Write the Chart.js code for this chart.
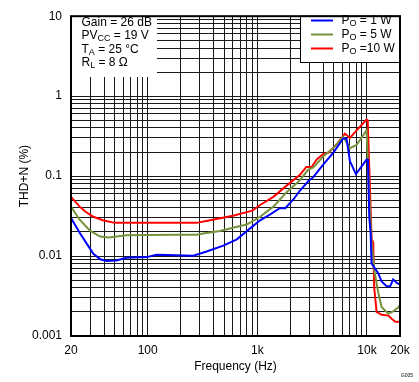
<!DOCTYPE html>
<html><head><meta charset="utf-8">
<script src="https://cdn.jsdelivr.net/npm/chart.js@4"></script>
<style>html,body{margin:0;padding:0;background:#fff}canvas{display:block}</style>
</head><body>
<canvas id="c" width="419" height="382"></canvas>
<script>
// ---- data ----
const freq1W = [20,24,28,32,37,42,52,64,98,121,180,261,345,490,650,860,1060,1300,1600,1800,2130,2450,2910,3240,4000,4920,6070,6510,6990,7930,9910,10200,10500,10790,11010,11800,12670,13590,15100,16280,17340,18710,20000];
const thd1W  = [0.03,0.0196,0.0141,0.0107,0.0091,0.0087,0.0088,0.0095,0.0097,0.0104,0.0102,0.0101,0.0114,0.0135,0.0162,0.0222,0.028,0.033,0.0396,0.0396,0.051,0.066,0.086,0.097,0.14,0.195,0.296,0.296,0.154,0.106,0.161,0.16,0.03,0.0196,0.0081,0.007,0.0061,0.0048,0.0042,0.0042,0.0051,0.0046,0.0044];

const freq5W = [20,24,30,37,44,64,100,200,280,320,456,600,800,1060,1400,1850,2450,2900,3240,4000,4920,6070,6990,8030,9910,10300,11000,11800,12670,13590,15630,17000,19500,20000];
const thd5W  = [0.0415,0.0285,0.0206,0.0175,0.0171,0.0182,0.0183,0.0185,0.0185,0.0192,0.0206,0.0226,0.0248,0.031,0.0415,0.063,0.089,0.12,0.128,0.177,0.224,0.31,0.224,0.245,0.374,0.1,0.015,0.006,0.0035,0.0023,0.0019,0.002,0.0023,0.0025];

const freq10W = [20,24,27,32,39,50,70,100,150,200,280,370,600,900,1060,1400,1850,2450,2800,3130,3470,4000,4440,5290,6290,6990,8000,9910,10150,10480,11020,11400,11640,12240,13590,15630,16790,18000,20000];
const thd10W  = [0.055,0.0415,0.036,0.031,0.028,0.026,0.026,0.026,0.026,0.026,0.026,0.028,0.032,0.037,0.0435,0.055,0.076,0.104,0.13,0.13,0.161,0.189,0.195,0.25,0.34,0.30,0.37,0.51,0.5,0.134,0.0163,0.0148,0.004,0.002,0.00184,0.0018,0.00164,0.00152,0.0015];

const legendTails = [' = 1 W',' = 5 W',' =10 W'];
const seriesColors = ['#0000FF','#76923C','#FF0000'];

const xTickValues = [20,30,40,50,60,70,80,90,100,200,300,400,500,600,700,800,900,1000,2000,3000,4000,5000,6000,7000,8000,9000,10000,20000];
const xLabelValues = [20,100,1000,10000,20000];
const xLabelTexts  = ['20','100','1k','10k','20k'];

const yTickValues = [0.001,0.002,0.003,0.004,0.005,0.006,0.007,0.008,0.009,0.01,0.02,0.03,0.04,0.05,0.06,0.07,0.08,0.09,0.1,0.2,0.3,0.4,0.5,0.6,0.7,0.8,0.9,1,2,3,4,5,6,7,8,9,10];
const yLabelValues = [0.001,0.01,0.1,1,10];
const yLabelTexts  = ['0.001','0.01','0.1','1','10'];

const conditionLines = [
  [['Gain = 26 dB',false]],
  [['PV',false],['CC',true],[' = 19 V',false]],
  [['T',false],['A',true],[' = 25 °C',false]],
  [['R',false],['L',true],[' = 8 Ω',false]]
];

// ---- chart ----
const FONT = "'Liberation Sans', Arial, sans-serif";
function findLabel(v, vals, texts){
  for (let i=0;i<vals.length;i++) if (Math.abs(Math.log10(v)-Math.log10(vals[i]))<1e-6) return texts[i];
  return '';
}
function toPts(xs, ys){ return xs.map((x,i)=>({x:x,y:ys[i]})); }

function drawParts(ctx, parts, x, y){
  let cx = x;
  for (const [t,sub] of parts){
    ctx.font = (sub ? '9px ' : '12px ') + FONT;
    ctx.fillText(t, cx, sub ? y+3 : y);
    cx += ctx.measureText(t).width;
  }
}

const boxesPlugin = {
  id:'boxes',
  beforeDatasetsDraw(chart){
    const ctx = chart.ctx, a = chart.chartArea;
    ctx.save();
    ctx.fillStyle = '#fff';
    ctx.fillRect(a.left, a.top, 157-a.left, 77-a.top);
    ctx.fillRect(300, a.top, a.right-300, 62-a.top);
    ctx.restore();
  },
  afterDatasetsDraw(chart){
    const ctx = chart.ctx, a = chart.chartArea;
    ctx.save();
    ctx.strokeStyle = '#000'; ctx.lineWidth = 1;
    ctx.strokeRect(300.5, a.top, a.right-300.5, 62.5-a.top);
    ctx.textBaseline = 'middle'; ctx.fillStyle = '#000';
    const rows = [20.5,34.5,48.5];
    for (let i=0;i<3;i++){
      ctx.strokeStyle = seriesColors[i]; ctx.lineWidth = 2;
      ctx.beginPath(); ctx.moveTo(311, rows[i]); ctx.lineTo(333, rows[i]); ctx.stroke();
      drawParts(ctx, [['P',false],['O',true],[legendTails[i],false]], 341.5, rows[i]);
    }
    const crow = [22.5,36,49.5,63];
    conditionLines.forEach((p,i)=>drawParts(ctx, p, 81.5, crow[i]));
    ctx.strokeStyle = '#000'; ctx.lineWidth = 2;
    ctx.strokeRect(a.left, a.top, a.right-a.left, a.bottom-a.top);
    ctx.font = '5px ' + FONT; ctx.textAlign = 'right';
    ctx.fillText('G005', 413, 376);
    ctx.restore();
  }
};

new Chart(document.getElementById('c'), {
  type:'line',
  data:{
    datasets:[
      {label:'1 W', data:toPts(freq1W,thd1W), borderColor:seriesColors[0]},
      {label:'5 W', data:toPts(freq5W,thd5W), borderColor:seriesColors[1]},
      {label:'10 W', data:toPts(freq10W,thd10W), borderColor:seriesColors[2]}
    ].map(d=>Object.assign(d,{borderWidth:2,pointRadius:0,tension:0,fill:false}))
  },
  options:{
    responsive:false, animation:false, maintainAspectRatio:false,
    layout:{padding:{left:0,right:19,top:8,bottom:0}},
    plugins:{legend:{display:false}, tooltip:{enabled:false}},
    scales:{
      x:{
        type:'logarithmic', min:20, max:20000,
        afterBuildTicks(s){ s.ticks = xTickValues.map(v=>({value:v})); },
        afterFit(s){ s.height = 46; },
        grid:{color:'#1a1a1a', lineWidth:1, drawTicks:false},
        border:{display:false},
        ticks:{autoSkip:false, maxRotation:0, padding:7, color:'#000', font:{family:FONT,size:12},
          callback:(v)=>findLabel(v,xLabelValues,xLabelTexts)},
        title:{display:true, text:'Frequency (Hz)', color:'#000', font:{family:FONT,size:12}, padding:{top:0,bottom:8}}
      },
      y:{
        type:'logarithmic', min:0.001, max:10,
        afterBuildTicks(s){ s.ticks = yTickValues.map(v=>({value:v})); },
        afterFit(s){ s.width = 71; },
        grid:{color:'#1a1a1a', lineWidth:1, drawTicks:false},
        border:{display:false},
        ticks:{autoSkip:false, padding:9, color:'#000', font:{family:FONT,size:12},
          callback:(v)=>findLabel(v,yLabelValues,yLabelTexts)},
        title:{display:true, text:'THD+N (%)', color:'#000', font:{family:FONT,size:12}, padding:{top:17,bottom:0}}
      }
    }
  },
  plugins:[boxesPlugin]
});
</script>
</body></html>
